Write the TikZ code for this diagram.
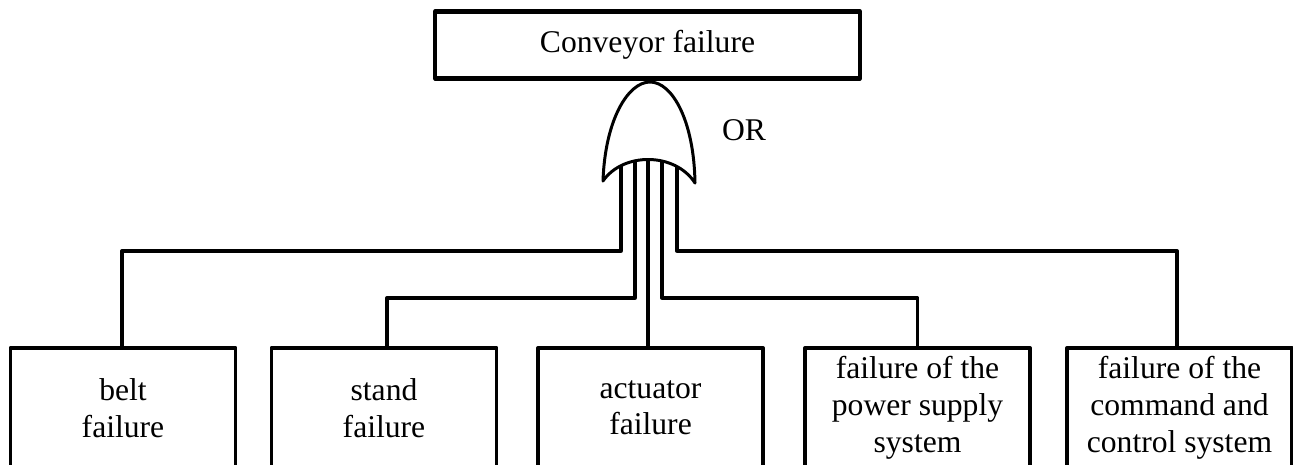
\documentclass[tikz,border=0pt]{standalone}
\usepackage{fontspec}
\setmainfont{Liberation Serif}
\usetikzlibrary{positioning}

\tikzset{
    event/.style={draw, line width=2pt, minimum width=4.5cm, minimum height=2.4cm,
        align=center, anchor=north, inner sep=2pt,
        font=\fontsize{18}{21}\selectfont},
    topevent/.style={draw, line width=2.3pt, minimum width=8.5cm, minimum height=1.34cm,
        font=\fontsize{18}{21}\selectfont},
    wire/.style={line width=1.9pt},
}

\begin{document}
\begin{tikzpicture}[x=0.02cm, y=-0.02cm, line join = round]
    \useasboundingbox (0,0) rectangle (1293,465);
    \clip (0,0) rectangle (1293,465);

    \node[topevent] (top) at (647.5,45) {Conveyor failure};

    % basic events
    \node[event] (belt) at (123,346) {belt\\failure};
    \node[event] (stand) at (384,346) {stand\\failure};
    \node[event] (actuator) at (650.5,346) {actuator\\failure};
    \node[event] (power) at (917.5,346) {failure of the\\power supply\\system};
    \node[event] (command) at (1179.5,346) {failure of the\\command and\\control system};

    % gate inputs
    \coordinate (g1) at (621,150);
    \coordinate (g2) at (635,150);
    \coordinate (g3) at (648,150);
    \coordinate (g4) at (662,150);
    \coordinate (g5) at (677,150);
    \coordinate (levelA) at (0,251);
    \coordinate (levelB) at (0,298);

    \draw[wire] (g1) -- (g1 |- levelA) -| ([xshift=-0.02cm]belt.north);
    \draw[wire] (g2) -- (g2 |- levelB) -| ([xshift=0.06cm]stand.north);
    \draw[wire] (g3) -- (g3 |- actuator.north);
    \draw[wire] (g4) -- (g4 |- levelB) -| (power.north);
    \draw[wire] (g5) -- (g5 |- levelA) -| ([xshift=-0.05cm]command.north);

    % OR gate
    \filldraw[fill=white, line width=1.7pt]
        (603,181) .. controls (605,120) and (628,82) .. (650,82)
        .. controls (672,82) and (694,120) .. (695,183)
        .. controls (675,152) and (623,152) .. cycle;
    \node[font=\fontsize{18}{21}\selectfont] (orlabel) at (744,130) {OR};
\end{tikzpicture}
\end{document}
